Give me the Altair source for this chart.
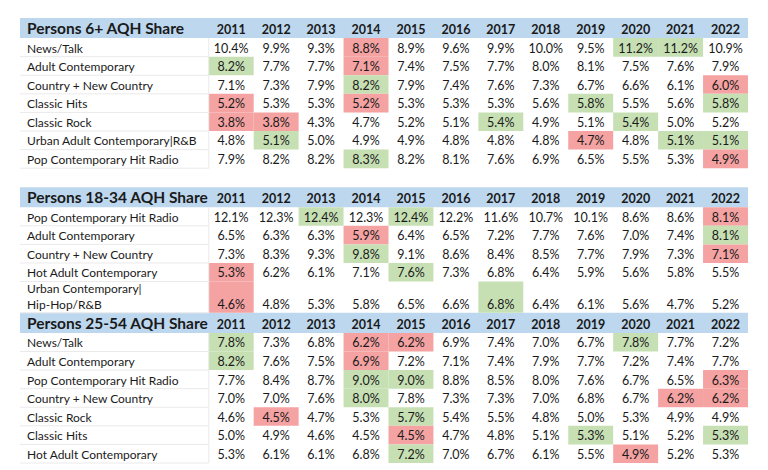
import altair as alt
import pandas as pd

years = [2011, 2012, 2013, 2014, 2015, 2016, 2017, 2018, 2019, 2020, 2021, 2022]

titles = ["Persons 6+ AQH Share", "Persons 18-34 AQH Share", "Persons 25-54 AQH Share"]

s1_labels = ["News/Talk", "Adult Contemporary", "Country + New Country", "Classic Hits",
             "Classic Rock", "Urban Adult Contemporary|R&B", "Pop Contemporary Hit Radio"]
s1_values = [
    [10.4, 9.9, 9.3, 8.8, 8.9, 9.6, 9.9, 10.0, 9.5, 11.2, 11.2, 10.9],
    [8.2, 7.7, 7.7, 7.1, 7.4, 7.5, 7.7, 8.0, 8.1, 7.5, 7.6, 7.9],
    [7.1, 7.3, 7.9, 8.2, 7.9, 7.4, 7.6, 7.3, 6.7, 6.6, 6.1, 6.0],
    [5.2, 5.3, 5.3, 5.2, 5.3, 5.3, 5.3, 5.6, 5.8, 5.5, 5.6, 5.8],
    [3.8, 3.8, 4.3, 4.7, 5.2, 5.1, 5.4, 4.9, 5.1, 5.4, 5.0, 5.2],
    [4.8, 5.1, 5.0, 4.9, 4.9, 4.8, 4.8, 4.8, 4.7, 4.8, 5.1, 5.1],
    [7.9, 8.2, 8.2, 8.3, 8.2, 8.1, 7.6, 6.9, 6.5, 5.5, 5.3, 4.9],
]

s2_labels = ["Pop Contemporary Hit Radio", "Adult Contemporary", "Country + New Country",
             "Hot Adult Contemporary", "Urban Contemporary|\nHip-Hop/R&B"]
s2_values = [
    [12.1, 12.3, 12.4, 12.3, 12.4, 12.2, 11.6, 10.7, 10.1, 8.6, 8.6, 8.1],
    [6.5, 6.3, 6.3, 5.9, 6.4, 6.5, 7.2, 7.7, 7.6, 7.0, 7.4, 8.1],
    [7.3, 8.3, 9.3, 9.8, 9.1, 8.6, 8.4, 8.5, 7.7, 7.9, 7.3, 7.1],
    [5.3, 6.2, 6.1, 7.1, 7.6, 7.3, 6.8, 6.4, 5.9, 5.6, 5.8, 5.5],
    [4.6, 4.8, 5.3, 5.8, 6.5, 6.6, 6.8, 6.4, 6.1, 5.6, 4.7, 5.2],
]

s3_labels = ["News/Talk", "Adult Contemporary", "Pop Contemporary Hit Radio",
             "Country + New Country", "Classic Rock", "Classic Hits", "Hot Adult Contemporary"]
s3_values = [
    [7.8, 7.3, 6.8, 6.2, 6.2, 6.9, 7.4, 7.0, 6.7, 7.8, 7.7, 7.2],
    [8.2, 7.6, 7.5, 6.9, 7.2, 7.1, 7.4, 7.9, 7.7, 7.2, 7.4, 7.7],
    [7.7, 8.4, 8.7, 9.0, 9.0, 8.8, 8.5, 8.0, 7.6, 6.7, 6.5, 6.3],
    [7.0, 7.0, 7.6, 8.0, 7.8, 7.3, 7.3, 7.0, 6.8, 6.7, 6.2, 6.2],
    [4.6, 4.5, 4.7, 5.3, 5.7, 5.4, 5.5, 4.8, 5.0, 5.3, 4.9, 4.9],
    [5.0, 4.9, 4.6, 4.54, 4.46, 4.7, 4.8, 5.1, 5.3, 5.1, 5.2, 5.3],
    [5.3, 6.1, 6.1, 6.8, 7.2, 7.0, 6.7, 6.1, 5.5, 4.9, 5.2, 5.3],
]

sections = [(titles[0], s1_labels, s1_values),
            (titles[1], s2_labels, s2_values),
            (titles[2], s3_labels, s3_values)]

# layout units (rows / columns) -- scales map them to pixels
LABEL_W = 4.2
HEADER_H = 1.08
TALL_H = 1.68
GAP_H = 1.02
LINE_STEP = 0.86   # second text line spacing, in row units
GREEN = "#C6E0B4"
RED = "#F4A2A2"

header_rows, year_rows, label_rows, cell_rows, hlines, vlines = [], [], [], [], [], []
y = 0.0
for si, (title, labels, values) in enumerate(sections):
    if si == 1:
        y += GAP_H
    header_rows.append({"title": title, "y0": y, "y1": y + HEADER_H})
    for i, yr in enumerate(years):
        year_rows.append({"year": str(yr), "x": LABEL_W + i + 0.5, "y": y + HEADER_H - 0.06})
    y += HEADER_H
    top = y
    for lab, vals in zip(labels, values):
        lines = lab.split("\n")
        h = TALL_H if len(lines) > 1 else 1.0
        base = y + h - 0.06
        for k, line in enumerate(lines):
            label_rows.append({"label": line, "y": base - (len(lines) - 1 - k) * LINE_STEP})
        vmax, vmin = max(vals), min(vals)
        for i, v in enumerate(vals):
            fill = GREEN if v == vmax else (RED if v == vmin else "")
            cell_rows.append({"txt": f"{v:.1f}%", "xc": LABEL_W + i + 0.5,
                              "x0": LABEL_W + i, "x1": LABEL_W + i + 1,
                              "y0": y, "y1": y + h, "yt": base, "fill": fill})
        y += h
        hlines.append({"x0": 0, "x1": LABEL_W, "y": y})
    vlines.append({"x": LABEL_W, "y0": top, "y1": y})

TOTAL_H = y
TOTAL_W = LABEL_W + len(years)

xs = alt.Scale(domain=[0, TOTAL_W], nice=False, zero=False)
ys = alt.Scale(domain=[0, TOTAL_H], reverse=True, nice=False, zero=False)

FONT = "Lato"
TXT = "#1a1a1a"

hdf = pd.DataFrame(header_rows)
ydf = pd.DataFrame(year_rows)
ldf = pd.DataFrame(label_rows)
cdf = pd.DataFrame(cell_rows)
fdf = cdf[cdf["fill"] != ""]
hl = pd.DataFrame(hlines)
vl = pd.DataFrame(vlines)

header_rect = alt.Chart(hdf).mark_rect(color="#BDD7EE").encode(
    x=alt.X("x0:Q", scale=xs, axis=None), x2=alt.X2("x1:Q"),
    y=alt.Y("y0:Q", scale=ys, axis=None), y2=alt.Y2("y1:Q"),
).transform_calculate(x0="0", x1=str(TOTAL_W))

fill_rect = alt.Chart(fdf).mark_rect().encode(
    x=alt.X("x0:Q", scale=xs, axis=None), x2="x1:Q",
    y=alt.Y("y0:Q", scale=ys, axis=None), y2="y1:Q",
    color=alt.Color("fill:N", scale=None),
)

hrule = alt.Chart(hl).mark_rule(color="#EAEAEA", strokeWidth=1).encode(
    x=alt.X("x0:Q", scale=xs, axis=None), x2="x1:Q",
    y=alt.Y("y:Q", scale=ys, axis=None),
)
vrule = alt.Chart(vl).mark_rule(color="#EAEAEA", strokeWidth=1).encode(
    x=alt.X("x:Q", scale=xs, axis=None),
    y=alt.Y("y0:Q", scale=ys, axis=None), y2="y1:Q",
)

title_txt = alt.Chart(hdf).mark_text(
    align="left", baseline="bottom", font=FONT, fontSize=15.5, fontWeight="bold", color=TXT, dx=7
).encode(
    x=alt.value(0),
    y=alt.Y("yt:Q", scale=ys, axis=None),
    text="title:N",
).transform_calculate(yt="datum.y1 - 0.06")

year_txt = alt.Chart(ydf).mark_text(
    align="center", baseline="bottom", font=FONT, fontSize=12.5, fontWeight="bold", color=TXT
).encode(
    x=alt.X("x:Q", scale=xs, axis=None),
    y=alt.Y("y:Q", scale=ys, axis=None),
    text="year:N",
)

label_txt = alt.Chart(ldf).mark_text(
    align="left", baseline="bottom", font=FONT, fontSize=12, color=TXT, dx=7
).encode(
    x=alt.value(0),
    y=alt.Y("y:Q", scale=ys, axis=None),
    text="label:N",
)

value_txt = alt.Chart(cdf).mark_text(
    align="center", baseline="bottom", font=FONT, fontSize=12.5, color=TXT
).encode(
    x=alt.X("xc:Q", scale=xs, axis=None),
    y=alt.Y("yt:Q", scale=ys, axis=None),
    text="txt:N",
)

chart = alt.layer(
    header_rect, fill_rect, hrule, vrule, title_txt, year_txt, label_txt, value_txt
).properties(
    width=728, height=445,
    autosize=alt.AutoSizeParams(type="none"),
    padding={"left": 12, "top": 10, "right": 12, "bottom": 2},
    background="white",
).configure_view(stroke=None)

chart.save("out.html", embed_options={"renderer": "svg", "actions": False})
